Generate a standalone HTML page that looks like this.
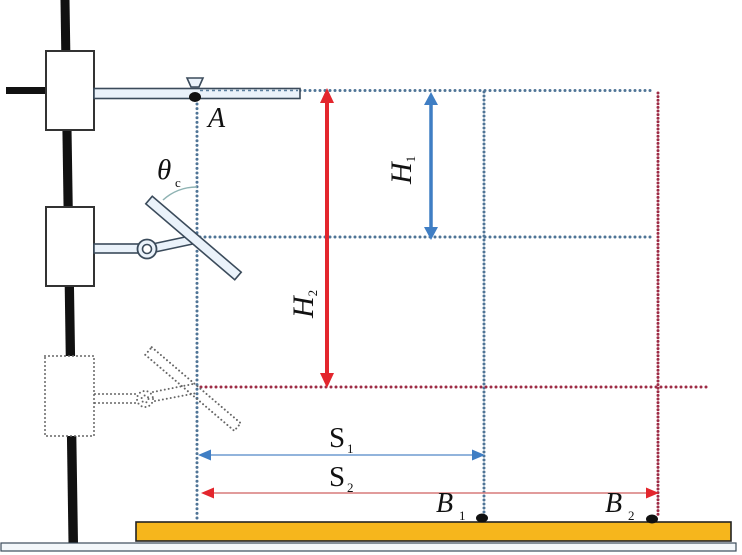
<!DOCTYPE html>
<html><head><meta charset="utf-8"><style>
html,body{margin:0;padding:0;background:#fff;}
svg{display:block;}
text{font-family:"Liberation Serif",serif;fill:#111;}
</style></head><body>
<svg width="742" height="555" viewBox="0 0 742 555" xmlns="http://www.w3.org/2000/svg">
<rect width="742" height="555" fill="#fff"/>
<!-- pole -->
<polygon points="60.5,0 69.5,0 78,543 68.5,543" fill="#111"/>
<rect x="6" y="87" width="41" height="7" fill="#111"/>

<!-- dotted guide lines -->
<g fill="none" stroke-linecap="round">
<line x1="200" y1="90.5" x2="655" y2="90.5" stroke="#4f7496" stroke-width="3" stroke-dasharray="0 5"/>
<line x1="197" y1="104" x2="197" y2="520" stroke="#4f7496" stroke-width="3" stroke-dasharray="0 4.6"/>
<line x1="200" y1="237" x2="655" y2="237" stroke="#4f7496" stroke-width="3" stroke-dasharray="0 5"/>
<line x1="484" y1="92" x2="484" y2="515" stroke="#4f7496" stroke-width="3" stroke-dasharray="0 4"/>
<line x1="658" y1="93" x2="658" y2="517" stroke="#9e2c46" stroke-width="3" stroke-dasharray="0 3.6"/>
<line x1="201" y1="387" x2="710" y2="387" stroke="#9e2c46" stroke-width="3" stroke-dasharray="0 5"/>
</g>

<!-- upper block & arm -->
<rect x="46" y="51" width="48" height="79" fill="#fff" stroke="#333" stroke-width="2"/>
<rect x="94" y="88.5" width="206" height="10" fill="#eaf2fa" stroke="#3b4b5b" stroke-width="1.6"/>
<line x1="200" y1="90.5" x2="298" y2="90.5" stroke="#5b7f9e" stroke-width="1.5" stroke-dasharray="3 3"/>
<polygon points="187,78 203,78 199,87 191,87" fill="#eaf2fa" stroke="#3b4b5b" stroke-width="1.6"/>
<ellipse cx="195" cy="97" rx="6" ry="5" fill="#111"/>
<text x="208" y="127" font-size="28" font-style="italic">A</text>

<!-- middle block, link, mirror -->
<rect x="46" y="207" width="48" height="79" fill="#fff" stroke="#333" stroke-width="2"/>
<rect x="94" y="244" width="52" height="9" fill="#eaf2fa" stroke="#3b4b5b" stroke-width="1.6"/>
<line x1="149" y1="249" x2="196" y2="239" stroke="#3b4b5b" stroke-width="10"/>
<line x1="149" y1="249" x2="196" y2="239" stroke="#eaf2fa" stroke-width="6.8"/>
<circle cx="147" cy="249" r="9.5" fill="#eaf2fa" stroke="#3b4b5b" stroke-width="1.8"/>
<circle cx="147" cy="249" r="4.5" fill="#fff" stroke="#3b4b5b" stroke-width="1.6"/>
<rect x="135" y="233" width="117" height="10" fill="#eaf2fa" stroke="#3b4b5b" stroke-width="1.6" transform="rotate(40.5 193.5 238)"/>
<path d="M163 200 A50 50 0 0 1 197 187" fill="none" stroke="#8fb3b3" stroke-width="1.5"/>
<text x="157" y="179" font-size="29" font-style="italic">θ</text>
<text x="175" y="187" font-size="13">c</text>

<!-- lower dotted block -->
<g fill="#fff" stroke="#666" stroke-width="2" stroke-linecap="round" stroke-dasharray="0 4">
<rect x="45" y="356" width="49" height="80"/>
<line x1="95" y1="394" x2="138" y2="394"/>
<line x1="95" y1="403" x2="138" y2="403"/>
<line x1="153" y1="392" x2="193" y2="384" fill="none"/>
<line x1="155" y1="401" x2="197" y2="393" fill="none"/>
<circle cx="145" cy="399" r="8"/>
<circle cx="145" cy="399" r="3.5" fill="none"/>
<rect x="134.5" y="384" width="117" height="10" fill="none" transform="rotate(40.5 193 389)"/>
</g>

<!-- H2 red arrow -->
<line x1="327" y1="100" x2="327" y2="376" stroke="#e3262d" stroke-width="4"/>
<polygon points="327,88 320,103 334,103" fill="#e3262d"/>
<polygon points="327,388 320,373 334,373" fill="#e3262d"/>
<!-- H1 blue arrow -->
<line x1="431" y1="102" x2="431" y2="229" stroke="#3f7ec4" stroke-width="3.5"/>
<polygon points="431,92 424,105 438,105" fill="#3f7ec4"/>
<polygon points="431,240 424,227 438,227" fill="#3f7ec4"/>

<text transform="translate(411,184) rotate(-90)" font-size="30" font-style="italic">H<tspan font-size="13" font-style="normal" dy="4">1</tspan></text>
<text transform="translate(313,318) rotate(-90)" font-size="30" font-style="italic">H<tspan font-size="13" font-style="normal" dy="4">2</tspan></text>

<!-- S arrows -->
<line x1="206" y1="455" x2="477" y2="455" stroke="#6f9bd0" stroke-width="1.6"/>
<polygon points="198,455 211,449.5 211,460.5" fill="#3f7ec4"/>
<polygon points="485,455 472,449.5 472,460.5" fill="#3f7ec4"/>
<line x1="209" y1="493" x2="651" y2="493" stroke="#d77a7a" stroke-width="1.6"/>
<polygon points="201,493 214,487.5 214,498.5" fill="#e3262d"/>
<polygon points="659,493 646,487.5 646,498.5" fill="#e3262d"/>
<text x="329" y="447" font-size="29">S</text><text x="347" y="453" font-size="13">1</text>
<text x="329" y="486" font-size="29">S</text><text x="347" y="492" font-size="13">2</text>

<!-- board & base -->
<rect x="136" y="522" width="595" height="19" fill="#f6b61c" stroke="#222" stroke-width="1.6"/>
<rect x="1" y="543" width="735" height="8" fill="#f3f7fa" stroke="#3b4b5b" stroke-width="1.2"/>
<ellipse cx="482" cy="518" rx="6" ry="4.5" fill="#111"/>
<ellipse cx="652" cy="519" rx="6" ry="4.5" fill="#111"/>
<text x="436" y="512" font-size="28" font-style="italic">B</text><text x="459" y="520" font-size="13">1</text>
<text x="605" y="512" font-size="28" font-style="italic">B</text><text x="628" y="520" font-size="13">2</text>
</svg>
</body></html>
